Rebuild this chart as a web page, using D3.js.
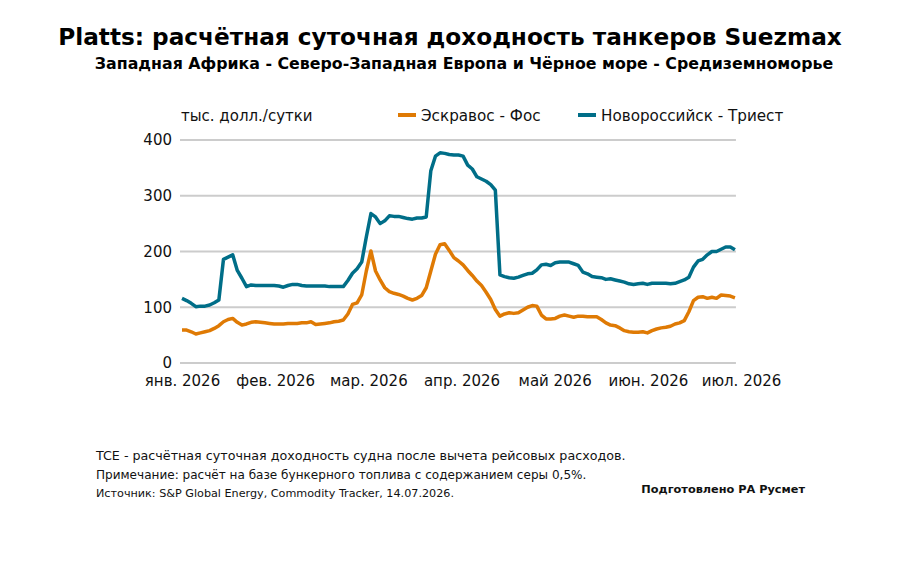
<!DOCTYPE html>
<html><head><meta charset="utf-8">
<script src="https://cdn.jsdelivr.net/npm/d3@7"></script>
<style>body{margin:0;background:#fff;} svg{display:block;} text{font-family:"DejaVu Sans",sans-serif;}</style>
</head><body>
<svg id="c" width="910" height="570"></svg>
<script>
const monthLabels = ["янв. 2026","фев. 2026","мар. 2026","апр. 2026","май 2026","июн. 2026","июл. 2026"];
const yTicks = [0,100,200,300,400];
const lastMonthPos = 5.935; // last observation position in month units
const eskravosFos = [59,59,56,52,54,56,58,62,67,74,78,80,73,68,70,73,74,73,72,71,70,70,70,71,71,71,72,72,74,69,70,71,72,74,75,77,88,105,108,122,165,201,165,149,135,128,125,123,120,116,113,116,121,135,165,195,212,214,202,189,183,176,166,157,147,139,127,114,96,84,88,90,89,90,95,100,103,102,86,79,79,80,84,86,84,82,84,84,83,83,83,78,72,68,67,63,58,56,55,55,56,54,58,61,63,64,66,70,72,76,92,112,118,119,116,118,116,122,121,120,117];
const novoTriest = [116,112,107,101,102,102,104,108,113,186,190,194,166,152,137,140,139,139,139,139,139,138,136,139,141,141,139,138,138,138,138,138,137,137,137,137,148,161,169,181,226,268,262,250,255,264,263,263,261,259,258,260,260,262,345,371,377,376,374,373,373,371,355,348,334,330,326,320,310,158,155,153,152,154,157,160,161,167,176,177,175,180,181,181,181,178,175,163,160,155,154,153,150,151,149,147,145,142,141,142,143,141,143,143,143,143,142,143,146,149,154,172,183,186,194,200,200,204,208,208,203];
const seriesNames = ["Эскравос - Фос","Новороссийск - Триест"];
const colors = ["#df7a04","#006e88"];

const svg = d3.select("#c");
const x = d3.scaleLinear().domain([0,6]).range([182,741]);
const y = d3.scaleLinear().domain([0,400]).range([363,140]);
const xEnd = x(lastMonthPos);

// title
svg.append("text").attr("x",450).attr("y",45).attr("text-anchor","middle")
  .attr("font-size",23.2).attr("font-weight","bold").text("Platts: расчётная суточная доходность танкеров Suezmax");
svg.append("text").attr("x",464).attr("y",69).attr("text-anchor","middle")
  .attr("font-size",15.8).attr("font-weight","bold").text("Западная Африка - Северо-Западная Европа и Чёрное море - Средиземноморье");

// grid
const g = svg.append("g");
g.selectAll("line.grid").data(yTicks).join("line")
  .attr("x1",180).attr("x2",xEnd+1).attr("y1",d=>y(d)).attr("y2",d=>y(d))
  .attr("stroke","#cccccc").attr("stroke-width",2.2);

// y axis labels
const yAxis = d3.axisLeft(y).tickValues(yTicks).tickSize(0).tickPadding(8);
const ya = svg.append("g").attr("transform","translate(180,0)").call(yAxis);
ya.select(".domain").remove();
ya.selectAll("text").attr("font-size",15).attr("fill","#111").attr("font-family","DejaVu Sans");

// x axis labels
const xAxis = d3.axisBottom(x).tickValues(d3.range(monthLabels.length)).tickFormat(i=>monthLabels[i]).tickSize(0).tickPadding(10);
const xa = svg.append("g").attr("transform","translate(0,365)").call(xAxis);
xa.select(".domain").remove();
xa.selectAll("text").attr("font-size",15).attr("fill","#111").attr("font-family","DejaVu Sans");

// lines
const n = eskravosFos.length;
const line = d3.line().x((d,i)=>x(i*lastMonthPos/(n-1))).y(d=>y(d));
[eskravosFos, novoTriest].forEach((s,k)=>{
  svg.append("path").datum(s).attr("d",line).attr("fill","none")
    .attr("stroke",colors[k]).attr("stroke-width",3.5).attr("stroke-linejoin","round");
});

// legend
svg.append("text").attr("x",181).attr("y",121).attr("font-size",15).attr("fill","#111").text("тыс. долл./сутки");
const legX = [398,578];
seriesNames.forEach((nm,k)=>{
  svg.append("line").attr("x1",legX[k]).attr("x2",legX[k]+18).attr("y1",115).attr("y2",115)
    .attr("stroke",colors[k]).attr("stroke-width",4);
  svg.append("text").attr("x",legX[k]+23).attr("y",121).attr("font-size",15.2).attr("fill","#111").text(nm);
});

// footer
const notes = ["TCE - расчётная суточная доходность судна после вычета рейсовых расходов.",
  "Примечание: расчёт на базе бункерного топлива с содержанием серы 0,5%.",
  "Источник: S&P Global Energy, Commodity Tracker, 14.07.2026."];
const noteSizes = [12.7, 12.05, 11.2];
notes.forEach((t,i)=>{
  svg.append("text").attr("x",96).attr("y",460+i*18.5).attr("font-size",noteSizes[i]).attr("fill","#111").text(t);
});
svg.append("text").attr("x",805).attr("y",493).attr("text-anchor","end").attr("font-size",11.3)
  .attr("font-weight","bold").attr("fill","#111").text("Подготовлено РА Русмет");
</script>
</body></html>
